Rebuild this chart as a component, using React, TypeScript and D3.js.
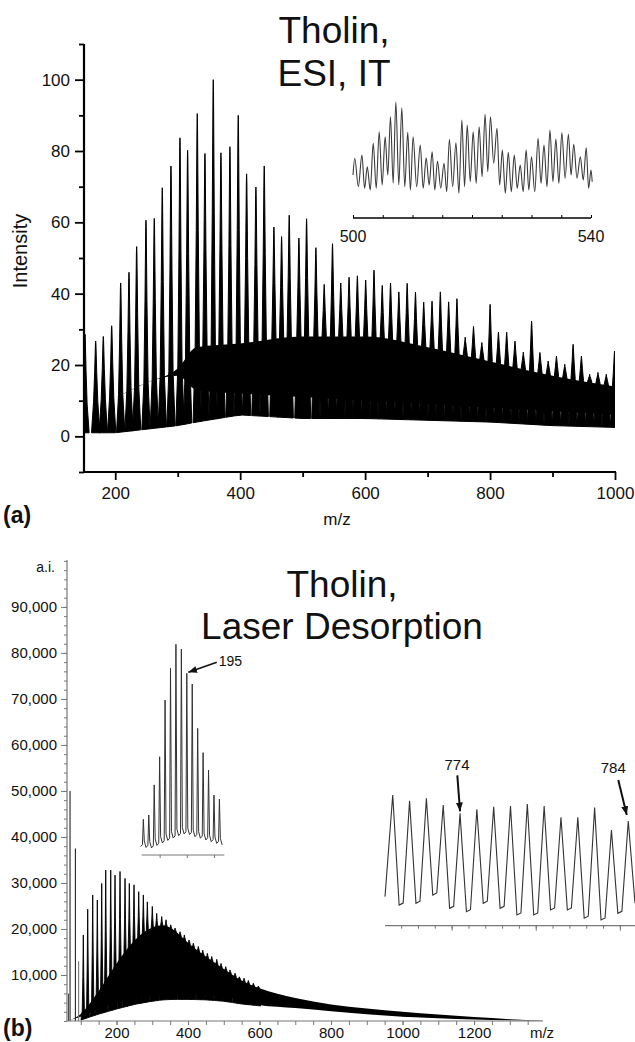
import React, { useEffect, useRef } from 'react';
import * as d3 from 'd3';

const FONT = '"Liberation Sans", Arial, Helvetica, sans-serif';

// ---------- panel (a): ESI ion trap spectrum ----------
// main peak of each ~13 Da cluster
const mzA = [151.6, 168.7, 180.9, 194.3, 208.7, 222, 234.3, 249.2, 262.5, 275.3, 289.2, 303.6, 315.9, 331.3, 343.6, 356.9, 369.2, 383.6, 396.9, 410.3, 425.2, 438.5, 454, 466.3, 478.5, 494, 506.3, 521.2, 534.5, 547.8, 561, 574.3, 587.6, 600.9, 614.2, 627.4, 640.7, 654, 667.3, 680.6, 693.8, 707.1, 720.4, 733.7, 747, 760.2, 773.5, 786.8, 800.1, 813.4, 826.6, 839.9, 853.2, 866.5, 879.8, 893, 906.3, 919.6, 932.9, 946.2, 959.4, 972.7, 986, 999.3];
const peakA = [28.6, 26.7, 28, 31, 43, 46, 53.2, 60.6, 61.1, 69.7, 75.8, 83.7, 80.2, 90.5, 79.3, 100, 79.5, 81.2, 90, 73.6, 69.9, 75.8, 58.7, 56, 62, 55.6, 61, 52.9, 42.6, 54, 43, 44.6, 45, 43.8, 46.6, 42.3, 43, 40.5, 42.9, 40.4, 37.6, 37.9, 40.5, 37.7, 38.6, 27.8, 30.8, 26.3, 37, 29.2, 29.2, 26.7, 23.6, 32.3, 23.5, 21.1, 22.5, 20.2, 25.8, 22.5, 17.4, 17.9, 17.4, 23.9];
// envelopes of the dense part of the trace
const envMzA = [150, 200, 250, 300, 330, 400, 500, 600, 700, 800, 900, 1000];
const bandA = [9, 11, 15, 19, 25, 26, 28, 28, 25, 21, 17, 14];
const floorA = [9, 11, 15, 17, 13, 12, 11, 10, 9, 8, 7, 6];
const valleyA = [1, 1, 2, 3, 4, 6, 5, 5, 4.5, 4, 3, 2.5];

const yTicksMajorA = [0, 20, 40, 60, 80, 100];
const yTicksMinorA = [-10, 10, 30, 50, 70, 90, 110];
const xTicksMajorA = [200, 400, 600, 800, 1000];
const xTicksMinorA = [300, 500, 700, 900];

// inset of (a): m/z 500-540
const insetAPeakMz = [500.3, 501.5, 502.4, 503.4, 504.4, 505.4, 506.3, 507.2, 508.2, 509.2, 510.1, 511.3, 512.3, 513.3, 514.2, 515.3, 516.2, 517.3, 518.3, 519.2, 520.2, 521.2, 522.2, 523.1, 524.2, 525.1, 526.1, 527.1, 528.1, 529.1, 530, 531.1, 532.1, 533.1, 534.1, 535.1, 536.2, 537.1, 538.2, 539.2, 540];
const insetAPeak = [38.7, 42, 30.3, 53.7, 65.3, 60.3, 80.3, 95.3, 89.3, 64.7, 60.3, 52, 39.3, 45.3, 36, 33.7, 57.7, 54.3, 77, 72, 65.3, 70.3, 82.7, 80.3, 68.7, 47, 44.7, 42, 32, 47, 40.3, 58.7, 52, 67, 58, 64.3, 62.7, 52.7, 40.3, 49.3, 27];
const insetATrough = [22, 10.3, 8.7, 7, 8.7, 12, 22, 13.7, 12, 10.3, 7, 10.3, 8.7, 12, 7, 8.7, 5.3, 10.3, 3.7, 10.3, 15.3, 13.7, 20.3, 25.3, 33.7, 12, 3.7, 5.3, 8.7, 5.3, 7, 5.3, 13.7, 10.3, 15.3, 13.7, 18.7, 22, 18.7, 17, 8.7, 15.3];
const insetATicks = [500, 505, 510, 515, 520, 525, 530, 535, 540];
const insetALabels = [500, 540];

// ---------- panel (b): laser desorption spectrum ----------
const lineMzB = [65, 70, 85, 94];
const lineIntB = [6000, 50000, 37500, 13000];
const mzB = [107.1, 119.4, 133.4, 146.3, 158.6, 169.8, 183.8, 195.8, 209.8, 223.8, 235.8, 248.9, 262.1, 275, 286.2, 300.1, 312.4, 326.4, 338.5, 351.6, 363.6, 377.6, 389.7, 402.8, 414.8, 428.8, 441.1, 454, 466.3, 480.3, 492.3, 505.5, 517.5, 531.5, 543.5, 556.6, 568.7, 582.7, 596.6];
const peakB = [18700, 24300, 27400, 26300, 29900, 32800, 32800, 31700, 32500, 31000, 29900, 29600, 28100, 27400, 25900, 24900, 23400, 22700, 22000, 20900, 20200, 19400, 18700, 17600, 16900, 16200, 15400, 14700, 14000, 13400, 12500, 11800, 11100, 10400, 9600, 9300, 8800, 8200, 7600];
const envMzB = [60, 100, 150, 200, 250, 300, 330, 360, 400, 450, 500, 550, 600, 650, 700, 800, 900, 1000, 1100, 1200, 1300, 1390];
const bandB = [0, 1500, 6500, 12500, 17500, 20300, 20800, 19800, 17000, 14000, 11300, 8800, 7100, 5900, 5000, 3600, 2700, 2000, 1400, 850, 400, 100];
const floorB = [0, 900, 2600, 3800, 4700, 5300, 5600, 5700, 5700, 5600, 5200, 4600, 3500, 3100, 2800, 2100, 1450, 900, 580, 320, 140, 30];
const valleyB = [0, 200, 1500, 2600, 3600, 4300, 4600, 4700, 4700, 4600, 4300, 3700, 3300, 2900, 2600, 1900, 1300, 800, 500, 250, 100, 0];

const yLabelsB = [10000, 20000, 30000, 40000, 50000, 60000, 70000, 80000, 90000];
const xLabelsB = [200, 400, 600, 800, 1000, 1200];

// inset 1 of (b): m/z 187-201
const insetB1Mz = [187, 188, 189, 190, 191, 192, 193, 194, 195, 196, 197, 198, 199, 200, 201];
const insetB1Peak = [16.6, 18.6, 32.6, 45.7, 72.1, 86.8, 98, 95.8, 84.5, 79.5, 58.9, 47.6, 39.5, 27.9, 26];
const insetB1Valley = [3.9, 3.5, 3.3, 4.5, 5.6, 6.8, 7.9, 9, 9.8, 9.5, 8.5, 7.8, 7, 6.2, 5.4, 4.7];
const insetB1Ticks = [190, 195, 200];

// inset 2 of (b): m/z 770-784
const insetB2Mz = [770, 771, 772, 773, 774, 775, 776, 777, 778, 779, 780, 781, 782, 783, 784];
const insetB2Peak = [96.3, 92.1, 93.9, 89, 82.8, 85.8, 87.7, 88.2, 89.7, 88.2, 79.9, 79.9, 87, 70.5, 77.2];
const insetB2Trough = [21.4, 15.2, 16.5, 22.6, 12.8, 10.3, 16.5, 12.8, 7.9, 7.9, 11.6, 11.6, 5.5, 4.2, 9.1, 16.5];
const insetB2Ticks = [770.5, 771.5, 772.5, 773.5, 774.5, 775.5, 776.5, 777.5, 778.5, 779.5, 780.5, 781.5, 782.5, 783.5];
const insetB2LongTicks = [773.5, 778.5, 783.5];

const App = () => {
  const svgRef = useRef(null);

  useEffect(() => {
    const svg = d3.select(svgRef.current);
    svg.selectAll('*').remove();

    svg.append('rect').attr('width', 635).attr('height', 1042).attr('fill', 'white');

    const defs = svg.append('defs');
    defs.append('marker')
      .attr('id', 'arrowhead')
      .attr('viewBox', '0 0 10 8')
      .attr('refX', 10).attr('refY', 4)
      .attr('markerUnits', 'userSpaceOnUse')
      .attr('markerWidth', 9).attr('markerHeight', 7)
      .attr('orient', 'auto')
      .append('path').attr('d', 'M0,0 L10,4 L0,8 z').attr('fill', '#111');
    defs.append('clipPath').attr('id', 'clipA')
      .append('rect').attr('x', 85).attr('y', 40).attr('width', 530).attr('height', 431);
    defs.append('clipPath').attr('id', 'clipB')
      .append('rect').attr('x', 68).attr('y', 555).attr('width', 475).attr('height', 466);

    const text = (x, y, t, size, anchor = 'middle', weight = 'normal', fill = '#111') =>
      svg.append('text').attr('x', x).attr('y', y).text(t)
        .attr('font-family', FONT).attr('font-size', size)
        .attr('font-weight', weight).attr('text-anchor', anchor).attr('fill', fill);

    const styleAxis = (g, size, color) => {
      g.selectAll('text').attr('font-family', FONT).attr('font-size', size).attr('fill', '#111');
      g.selectAll('line').attr('stroke', color);
      g.select('.domain').remove();
    };

    // ===== panel (a) =====
    const xA = d3.scaleLinear().domain([150, 1000]).range([84, 615]);
    const yA = d3.scaleLinear().domain([-10, 110]).range([472, 44]);
    const bandFnA = d3.scaleLinear().domain(envMzA).range(bandA);
    const valleyFnA = d3.scaleLinear().domain(envMzA).range(valleyA);

    const gA = svg.append('g').attr('clip-path', 'url(#clipA)');
    const areaA = d3.area()
      .x((d, i) => xA(envMzA[i]))
      .y0((d, i) => yA(floorA[i]))
      .y1((d, i) => yA(bandA[i]))
      .curve(d3.curveMonotoneX);
    gA.append('path').attr('d', areaA(envMzA)).attr('fill', '#000');

    const lineA = d3.line().x(d => xA(d[0])).y(d => yA(d[1]));
    const hwA = 6.65;
    // each cluster: notch - body - thick base of the spike - spike top
    const clustersA = mzA.map((m, i) => {
      const pk = peakA[i];
      const b = Math.min(bandFnA(m), pk);
      const mid = b + 0.5 * (pk - b);
      return [[m - hwA, valleyFnA(m - hwA)], [m - 3.4, b], [m - 1.6, mid], [m - 0.4, pk * 0.97], [m, pk], [m + 0.4, pk * 0.97], [m + 1.6, mid], [m + 3.4, b], [m + hwA, valleyFnA(m + hwA)]];
    });
    gA.selectAll('path.clusterA').data(clustersA).join('path')
      .attr('class', 'clusterA')
      .attr('d', d => lineA(d) + 'Z')
      .attr('fill', '#000').attr('stroke', '#000').attr('stroke-width', 1).attr('stroke-linejoin', 'round');

    // axes (a)
    const yAxMajor = svg.append('g').attr('transform', 'translate(84,0)')
      .call(d3.axisLeft(yA).tickValues(yTicksMajorA).tickSize(9).tickPadding(5));
    styleAxis(yAxMajor, 17, '#000');
    yAxMajor.selectAll('line').attr('stroke-width', 1.8);
    const yAxMinor = svg.append('g').attr('transform', 'translate(84,0)')
      .call(d3.axisLeft(yA).tickValues(yTicksMinorA).tickSize(5).tickFormat(() => ''));
    styleAxis(yAxMinor, 17, '#000');
    yAxMinor.selectAll('line').attr('stroke-width', 1.8);

    const xAxMajor = svg.append('g').attr('transform', 'translate(0,472)')
      .call(d3.axisBottom(xA).tickValues(xTicksMajorA).tickSize(8).tickPadding(7).tickFormat(d3.format('d')));
    styleAxis(xAxMajor, 17, '#000');
    xAxMajor.selectAll('line').attr('stroke-width', 1.8);
    const xAxMinor = svg.append('g').attr('transform', 'translate(0,472)')
      .call(d3.axisBottom(xA).tickValues(xTicksMinorA).tickSize(5).tickFormat(() => ''));
    styleAxis(xAxMinor, 17, '#000');
    xAxMinor.selectAll('line').attr('stroke-width', 1.8);

    svg.append('line').attr('x1', 84).attr('x2', 84).attr('y1', 44).attr('y2', 473)
      .attr('stroke', '#000').attr('stroke-width', 2.2);
    svg.append('line').attr('x1', 83).attr('x2', 616).attr('y1', 472).attr('y2', 472)
      .attr('stroke', '#000').attr('stroke-width', 2.2);

    text(27, 251, 'Intensity', 20).attr('transform', 'rotate(-90,27,251)');
    text(337, 525, 'm/z', 17);
    text(3, 523, '(a)', 23, 'start', 'bold');
    text(334, 43, 'Tholin,', 37);
    text(334, 86, 'ESI, IT', 37);

    // inset (a)
    const xIA = d3.scaleLinear().domain([500, 540]).range([353, 591]);
    const yIA = d3.scaleLinear().domain([0, 100]).range([197, 97]);
    const ptsIA = [];
    insetAPeakMz.forEach((m, i) => {
      const left = i === 0 ? 500 : (insetAPeakMz[i - 1] + m) / 2;
      ptsIA.push([left, insetATrough[i]]);
      ptsIA.push([m, insetAPeak[i]]);
    });
    ptsIA.push([540.2, insetATrough[insetATrough.length - 1]]);
    svg.append('path')
      .attr('d', d3.line().x(d => xIA(d[0])).y(d => yIA(d[1])).curve(d3.curveMonotoneX)(ptsIA))
      .attr('fill', 'none').attr('stroke', '#3a3a3a').attr('stroke-width', 1.1);
    const axIA = svg.append('g').attr('transform', 'translate(0,218)')
      .call(d3.axisTop(xIA).tickValues(insetATicks).tickSize(3).tickFormat(() => ''));
    styleAxis(axIA, 16, '#000');
    svg.append('line').attr('x1', 353).attr('x2', 591).attr('y1', 218).attr('y2', 218)
      .attr('stroke', '#000').attr('stroke-width', 1.4);
    insetALabels.forEach(v => text(xIA(v), 242, String(v), 16));

    // ===== panel (b) =====
    const xB = d3.scaleLinear().domain([61.5, 1392]).range([67, 542.7]);
    const yB = d3.scaleLinear().domain([0, 100200]).range([1021, 560]);
    const bandFnB = d3.scaleLinear().domain(envMzB).range(bandB);
    const valleyFnB = d3.scaleLinear().domain(envMzB).range(valleyB);

    const gB = svg.append('g').attr('clip-path', 'url(#clipB)');
    const areaB = d3.area()
      .x((d, i) => xB(envMzB[i]))
      .y0((d, i) => yB(floorB[i]))
      .y1((d, i) => yB(bandB[i]))
      .curve(d3.curveMonotoneX);
    gB.append('path').attr('d', areaB(envMzB)).attr('fill', '#000');

    gB.selectAll('line.lowB').data(lineMzB).join('line')
      .attr('class', 'lowB')
      .attr('x1', d => xB(d)).attr('x2', d => xB(d))
      .attr('y1', yB(0)).attr('y2', (d, i) => yB(lineIntB[i]))
      .attr('stroke', (d, i) => (i === 3 ? '#777' : '#222')).attr('stroke-width', 1.1);

    const lineB = d3.line().x(d => xB(d[0])).y(d => yB(d[1]));
    const hwB = 6.45;
    const spikesB = mzB.map((m, i) => {
      const pk = peakB[i];
      const b = Math.min(bandFnB(m), pk);
      const mid = b + 0.45 * (pk - b);
      return [[m - hwB, valleyFnB(m - hwB)], [m - 3, b], [m - 1.3, mid], [m, pk], [m + 1.3, mid], [m + 3, b], [m + hwB, valleyFnB(m + hwB)]];
    });
    gB.selectAll('path.spikeB').data(spikesB).join('path')
      .attr('class', 'spikeB')
      .attr('d', d => lineB(d) + 'Z')
      .attr('fill', '#000').attr('stroke', '#000').attr('stroke-width', 0.9).attr('stroke-linejoin', 'round');

    // axes (b)
    const axisGrey = '#777';
    const yBMinor = svg.append('g').attr('transform', 'translate(67,0)')
      .call(d3.axisLeft(yB).tickValues(d3.range(0, 100001, 2000)).tickSize(3).tickFormat(() => ''));
    styleAxis(yBMinor, 15, axisGrey);
    const yBMajor = svg.append('g').attr('transform', 'translate(67,0)')
      .call(d3.axisLeft(yB).tickValues(yLabelsB).tickSize(6).tickPadding(4).tickFormat(d3.format(',')));
    styleAxis(yBMajor, 15, axisGrey);
    svg.append('line').attr('x1', 67).attr('x2', 67).attr('y1', 560).attr('y2', 1021)
      .attr('stroke', axisGrey).attr('stroke-width', 1.2);

    const xBMinor = svg.append('g').attr('transform', 'translate(0,1021)')
      .call(d3.axisBottom(xB).tickValues(d3.range(100, 1351, 50)).tickSize(4).tickFormat(() => ''));
    styleAxis(xBMinor, 15, axisGrey);
    const xBMajor = svg.append('g').attr('transform', 'translate(0,1021)')
      .call(d3.axisBottom(xB).tickValues(xLabelsB).tickSize(4).tickPadding(2).tickFormat(d3.format('d')));
    styleAxis(xBMajor, 15, axisGrey);
    svg.append('line').attr('x1', 67).attr('x2', 543).attr('y1', 1021).attr('y2', 1021)
      .attr('stroke', axisGrey).attr('stroke-width', 1.2);

    text(55, 572, 'a.i.', 14, 'end');
    text(542, 1038, 'm/z', 15);
    text(3, 1036, '(b)', 23, 'start', 'bold');
    text(342, 597, 'Tholin,', 37);
    text(342, 639, 'Laser Desorption', 37);

    // inset 1 of (b)
    const xIB1 = d3.scaleLinear().domain([186.7, 201.9]).range([141.7, 224.3]);
    const yIB1 = d3.scaleLinear().domain([0, 100]).range([855, 640]);
    const ptsIB1 = [];
    insetB1Mz.forEach((m, i) => {
      ptsIB1.push([m - 0.5, insetB1Valley[i]]);
      ptsIB1.push([m - 0.16, insetB1Valley[i] + 1]);
      ptsIB1.push([m, insetB1Peak[i]]);
      ptsIB1.push([m + 0.18, insetB1Valley[i + 1] + 3]);
    });
    ptsIB1.push([201.5, insetB1Valley[insetB1Valley.length - 1]]);
    svg.append('path')
      .attr('d', d3.line().x(d => xIB1(d[0])).y(d => yIB1(d[1]))(ptsIB1))
      .attr('fill', 'none').attr('stroke', '#333').attr('stroke-width', 1);
    const axIB1 = svg.append('g').attr('transform', 'translate(0,855)')
      .call(d3.axisBottom(xIB1).tickValues(insetB1Ticks).tickSize(3).tickFormat(() => ''));
    styleAxis(axIB1, 12, axisGrey);
    svg.append('line').attr('x1', 141.7).attr('x2', 224.3).attr('y1', 855).attr('y2', 855)
      .attr('stroke', axisGrey).attr('stroke-width', 1.2);

    // 195 annotation
    const x195 = xIB1(195), y195 = yIB1(insetB1Peak[insetB1Mz.indexOf(195)]);
    svg.append('line').attr('x1', x195 + 30).attr('y1', y195 - 11)
      .attr('x2', x195 + 1.5).attr('y2', y195 - 1)
      .attr('stroke', '#111').attr('stroke-width', 1.5).attr('marker-end', 'url(#arrowhead)');
    text(x195 + 32, y195 - 7, '195', 14, 'start');

    // inset 2 of (b)
    const xIB2 = d3.scaleLinear().domain([769.54, 784.4]).range([385, 635]);
    const yIB2 = d3.scaleLinear().domain([0, 100]).range([925.7, 790]);
    const ptsIB2 = [[769.54, insetB2Trough[0]]];
    insetB2Mz.forEach((m, i) => {
      ptsIB2.push([m, insetB2Peak[i]]);
      if (i === insetB2Mz.length - 1) {
        ptsIB2.push([784.4, insetB2Trough[i + 1]]);
      } else {
        ptsIB2.push([m + 0.38, insetB2Trough[i + 1]]);
        ptsIB2.push([m + 0.62, insetB2Trough[i + 1] + 1.5]);
      }
    });
    svg.append('path')
      .attr('d', d3.line().x(d => xIB2(d[0])).y(d => yIB2(d[1]))(ptsIB2))
      .attr('fill', 'none').attr('stroke', '#333').attr('stroke-width', 1.1);
    const axIB2 = svg.append('g').attr('transform', 'translate(0,925.7)')
      .call(d3.axisBottom(xIB2).tickValues(insetB2Ticks).tickSize(3).tickFormat(() => ''));
    styleAxis(axIB2, 12, axisGrey);
    const axIB2Long = svg.append('g').attr('transform', 'translate(0,925.7)')
      .call(d3.axisBottom(xIB2).tickValues(insetB2LongTicks).tickSize(5).tickFormat(() => ''));
    styleAxis(axIB2Long, 12, axisGrey);
    svg.append('line').attr('x1', 385).attr('x2', 635).attr('y1', 925.7).attr('y2', 925.7)
      .attr('stroke', axisGrey).attr('stroke-width', 1.2);

    // 774 / 784 annotations
    const x774 = xIB2(774), y774 = yIB2(insetB2Peak[insetB2Mz.indexOf(774)]);
    svg.append('line').attr('x1', x774 - 2.7).attr('y1', y774 - 38)
      .attr('x2', x774).attr('y2', y774 - 2)
      .attr('stroke', '#111').attr('stroke-width', 2).attr('marker-end', 'url(#arrowhead)');
    text(x774 - 3, y774 - 43, '774', 15);
    const x784 = xIB2(784), y784 = yIB2(insetB2Peak[insetB2Mz.indexOf(784)]);
    svg.append('line').attr('x1', x784 - 10).attr('y1', y784 - 41)
      .attr('x2', x784 - 1.5).attr('y2', y784 - 6)
      .attr('stroke', '#111').attr('stroke-width', 2).attr('marker-end', 'url(#arrowhead)');
    text(x784 - 15, y784 - 48, '784', 15);
  }, []);

  return (
    <svg
      ref={svgRef}
      width={635}
      height={1042}
      style={{ position: 'absolute', left: 0, top: 0, display: 'block' }}
    />
  );
};

export default App;
